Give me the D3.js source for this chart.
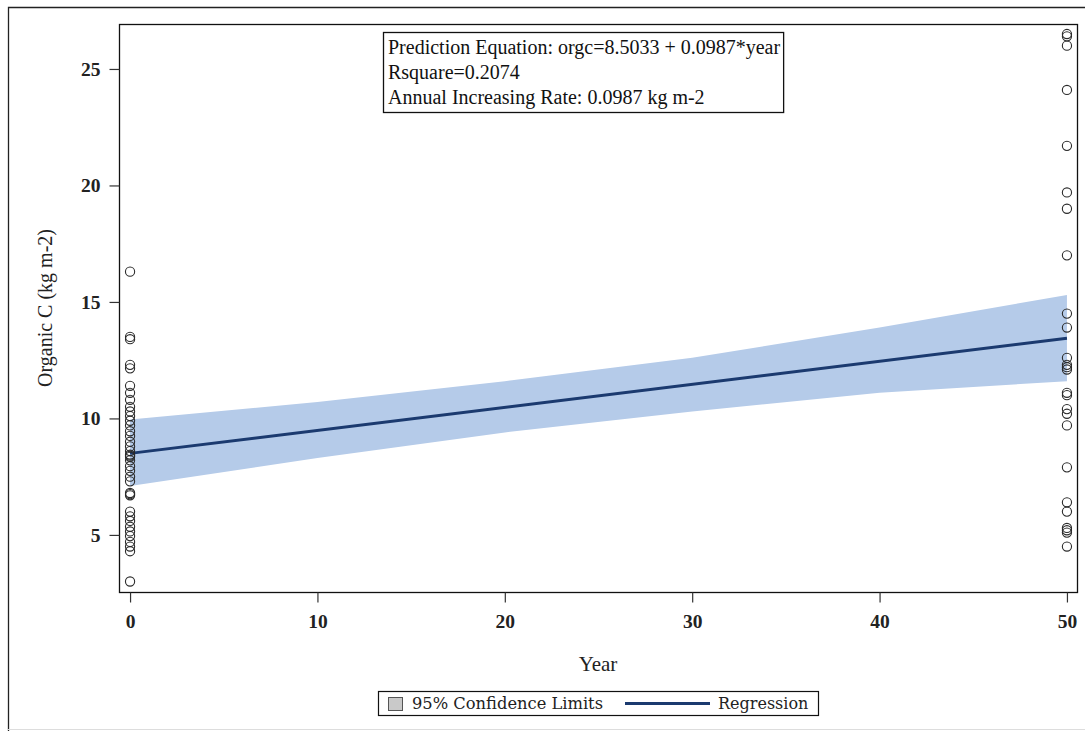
<!DOCTYPE html>
<html>
<head>
<meta charset="utf-8">
<script src="https://cdn.jsdelivr.net/npm/d3@7"></script>
<style>
  body { margin: 0; background: #fff; }
  svg { display: block; }
</style>
</head>
<body>
<script>
var year0Values = [16.3, 13.5, 13.4, 12.3, 12.15, 11.4, 11.1, 10.8, 10.5, 10.3, 10.1,
  9.9, 9.7, 9.45, 9.25, 9.0, 8.8, 8.6, 8.45, 8.4, 8.35, 8.2, 7.95, 7.75, 7.5, 7.3,
  6.8, 6.75, 6.7, 6.0, 5.8, 5.6, 5.35, 5.15, 4.95, 4.7, 4.5, 4.3, 3.0];
var year50Values = [26.5, 26.4, 26.0, 24.1, 21.7, 19.7, 19.0, 17.0, 14.5, 13.9,
  12.6, 12.3, 12.2, 12.1, 11.1, 11.0, 10.4, 10.2, 9.7, 7.9, 6.4, 6.0, 5.3, 5.2, 5.1, 4.5];

// regression fit and 95% confidence band
var fitYears = [0, 50];
var fitValues = [8.50, 13.44];
var bandYears = [0, 10, 20, 30, 40, 50];
var bandUpper = [9.95, 10.7, 11.6, 12.6, 13.9, 15.3];
var bandLower = [7.1, 8.3, 9.4, 10.3, 11.1, 11.6];

var xTicks = [0, 10, 20, 30, 40, 50];
var yTicks = [5, 10, 15, 20, 25];

var infoLines = [
  'Prediction Equation: orgc=8.5033 + 0.0987*year',
  'Rsquare=0.2074',
  'Annual Increasing Rate: 0.0987 kg m-2'
];

document.addEventListener('DOMContentLoaded', function() {

  var svg = d3.select('body').append('svg').attr('width', 1085).attr('height', 731);
  var serif = '"Liberation Serif", "Times New Roman", serif';

  var left = 119, top = 24, right = 1078, bottom = 592;

  var x = d3.scaleLinear().domain([-0.59, 50.59]).range([left, right]);
  var y = d3.scaleLinear().domain([2.55, 26.93]).range([bottom, top]);

  // outer frame
  svg.append('path').attr('d', 'M8.5,731 V7.5 H1085')
    .attr('fill', 'none').attr('stroke', '#222').attr('stroke-width', 1.3);
  svg.append('line').attr('x1', 8).attr('x2', 1085).attr('y1', 729.5).attr('y2', 729.5)
    .attr('stroke', '#ddd');

  // band
  var band = bandYears.map(function(d, i) { return {x: d, lo: bandLower[i], hi: bandUpper[i]}; });
  svg.append('path').datum(band)
    .attr('fill', '#b5cbe9')
    .attr('d', d3.area()
      .x(function(d) { return x(d.x); })
      .y0(function(d) { return y(d.lo); })
      .y1(function(d) { return y(d.hi); }));

  // fit line
  var fit = fitYears.map(function(d, i) { return {x: d, v: fitValues[i]}; });
  svg.append('path').datum(fit)
    .attr('fill', 'none').attr('stroke', '#1b3a6f').attr('stroke-width', 3)
    .attr('d', d3.line()
      .x(function(d) { return x(d.x); })
      .y(function(d) { return y(d.v); }));

  // observations
  var pts = year0Values.map(function(v) { return {x: 0, v: v}; })
    .concat(year50Values.map(function(v) { return {x: 50, v: v}; }));
  svg.selectAll('circle.obs').data(pts).enter().append('circle')
    .attr('class', 'obs')
    .attr('cx', function(d) { return x(d.x); })
    .attr('cy', function(d) { return y(d.v); })
    .attr('r', 4.6)
    .attr('fill', 'none').attr('stroke', '#2a2a2a').attr('stroke-width', 1.1);

  // plot frame
  svg.append('rect').attr('x', left + 0.5).attr('y', top + 0.5)
    .attr('width', right - left - 1).attr('height', bottom - top)
    .attr('fill', 'none').attr('stroke', '#111').attr('stroke-width', 1.3);

  // axes
  var xAxis = svg.append('g').attr('transform', 'translate(0,' + (bottom + 0.5) + ')')
    .call(d3.axisBottom(x).tickValues(xTicks).tickSize(10).tickPadding(12));
  var yAxis = svg.append('g').attr('transform', 'translate(' + (left + 0.5) + ',0)')
    .call(d3.axisLeft(y).tickValues(yTicks).tickSize(10).tickPadding(9));
  [xAxis, yAxis].forEach(function(g) {
    g.select('.domain').remove();
    g.selectAll('.tick line').attr('stroke', '#333').attr('stroke-width', 1.2);
    g.selectAll('.tick text')
      .attr('font-family', serif).attr('font-size', 19.5).attr('font-weight', 'bold')
      .attr('fill', '#222');
  });

  svg.append('text').attr('x', 598).attr('y', 671)
    .attr('text-anchor', 'middle')
    .attr('font-family', serif).attr('font-size', 21).attr('fill', '#222')
    .text('Year');
  svg.append('text').attr('transform', 'translate(52,308) rotate(-90)')
    .attr('text-anchor', 'middle')
    .attr('font-family', serif).attr('font-size', 20).attr('fill', '#222')
    .text('Organic C (kg m-2)');

  // info box
  var info = svg.append('g');
  var infoText = info.selectAll('text').data(infoLines).enter().append('text')
    .attr('x', 388)
    .attr('y', function(d, i) { return 54 + i * 25; })
    .attr('font-family', serif).attr('font-size', 20).attr('fill', '#111')
    .text(function(d) { return d; });
  var infoW = d3.max(infoText.nodes(), function(n) { return n.getComputedTextLength(); });
  info.insert('rect', 'text')
    .attr('x', 383.5).attr('y', 32.5).attr('width', infoW + 8).attr('height', 80)
    .attr('fill', '#fff').attr('stroke', '#111').attr('stroke-width', 1.3);

  // legend
  var legendFont = '"DejaVu Serif", serif';
  var lg = svg.append('g');
  lg.append('rect').attr('x', 378.5).attr('y', 691.5).attr('width', 440).attr('height', 24)
    .attr('fill', '#fff').attr('stroke', '#111').attr('stroke-width', 1.2);
  lg.append('rect').attr('x', 388.5).attr('y', 697.5).attr('width', 14).attr('height', 13)
    .attr('fill', '#c9c9c9').attr('stroke', '#555');
  lg.append('text').attr('x', 412).attr('y', 709)
    .attr('font-family', legendFont).attr('font-size', 16.3).attr('fill', '#222')
    .text('95% Confidence Limits');
  lg.append('line').attr('x1', 625).attr('x2', 710).attr('y1', 703.5).attr('y2', 703.5)
    .attr('stroke', '#1b3a6f').attr('stroke-width', 3);
  lg.append('text').attr('x', 718).attr('y', 709)
    .attr('font-family', legendFont).attr('font-size', 16).attr('fill', '#222')
    .text('Regression');
});
</script>
</body>
</html>
